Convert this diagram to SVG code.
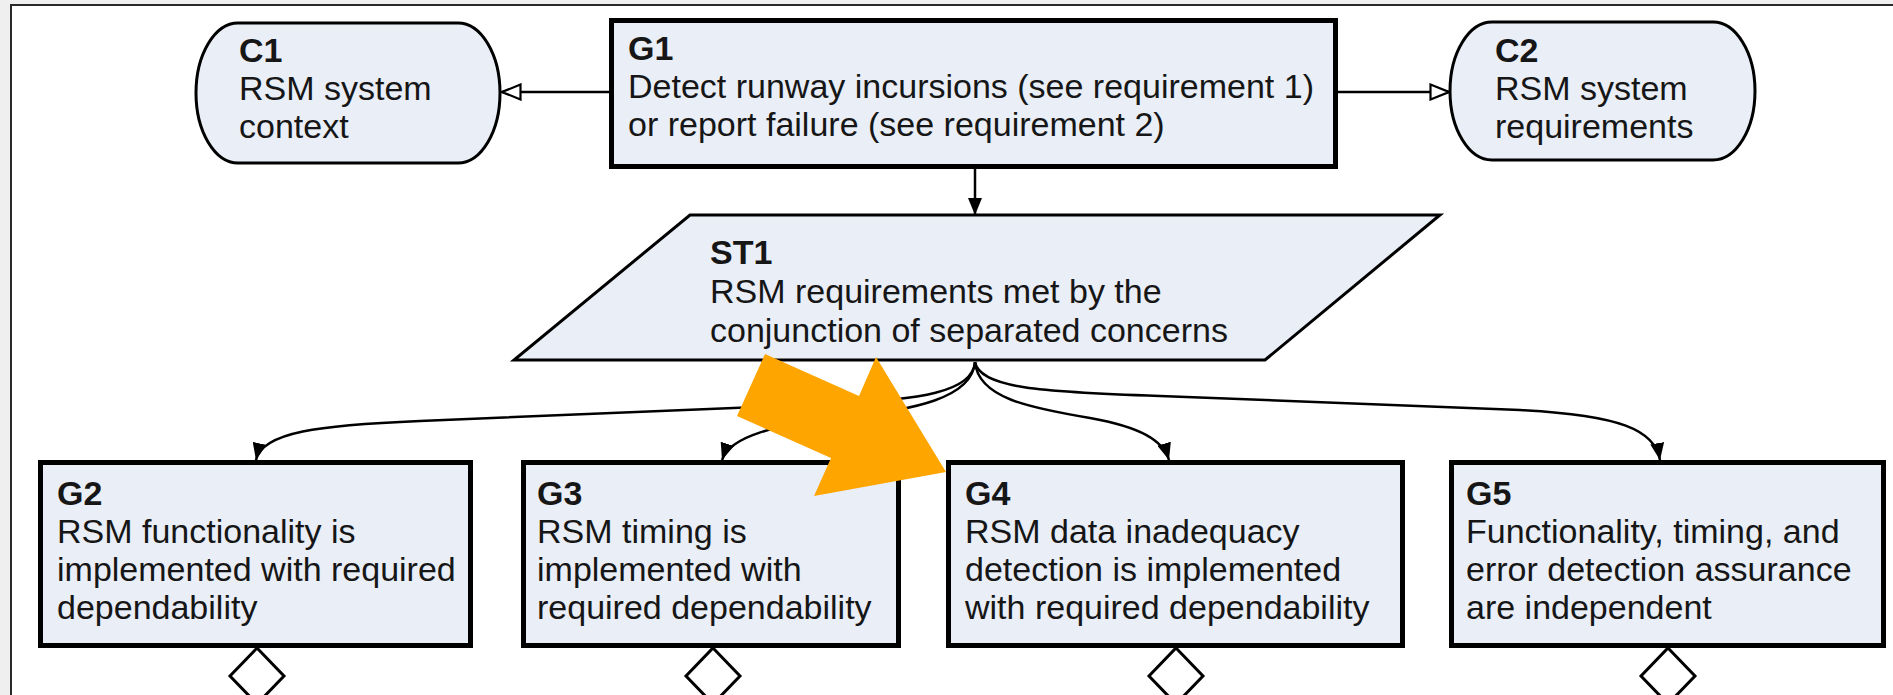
<svg xmlns="http://www.w3.org/2000/svg" width="1893" height="695" viewBox="0 0 1893 695">
  <style>
    .goal { fill: #e9eef7; stroke: #000; stroke-width: 5; }
    .ctx { fill: #e9eef7; stroke: #000; stroke-width: 3; }
    .strat { fill: #e9eef7; stroke: #000; stroke-width: 3; stroke-linejoin: miter; }
    .undev { fill: #fff; stroke: #000; stroke-width: 3; }
    .lbl { font-family: "Liberation Sans", Arial, sans-serif; font-size: 34px; fill: #161616; }
    .id { font-weight: bold; }
    .edge { fill: none; stroke: #000; stroke-width: 2.5; }
  </style>
  <defs>
    <marker id="solid" markerUnits="userSpaceOnUse" markerWidth="18" markerHeight="14" refX="17" refY="7" orient="auto">
      <path d="M0,0 L17,7 L0,14 z" fill="#000"/>
    </marker>
    <marker id="hollow" markerUnits="userSpaceOnUse" markerWidth="22" markerHeight="18" refX="20" refY="9" orient="auto">
      <path d="M1.5,1.5 L20,9 L1.5,16.5 z" fill="#fff" stroke="#000" stroke-width="2.2"/>
    </marker>
  </defs>

  <!-- page frame -->
  <rect x="0" y="0" width="1893" height="695" fill="#efefef"/>
  <rect x="11" y="5" width="1900" height="710" fill="#fff" stroke="#2a2a2a" stroke-width="2"/>

  <!-- connectors -->
  <g id="connectors">
    <path class="edge" d="M609,92 L502,92" marker-end="url(#hollow)"/>
    <path class="edge" d="M1338,92 L1449,92" marker-end="url(#hollow)"/>
    <path class="edge" d="M975,169 L975,215" marker-end="url(#solid)"/>
    <path class="edge" d="M975,362 C973,392 920,400 830,404 L420,421 C320,425 262,432 256,460" marker-end="url(#solid)"/>
    <path class="edge" d="M975,362 C972,398 915,410 840,418 C775,425 730,436 722,460" marker-end="url(#solid)"/>
    <path class="edge" d="M975,362 C978,398 1030,408 1090,418 C1140,427 1163,440 1169,460" marker-end="url(#solid)"/>
    <path class="edge" d="M975,362 C980,388 1040,392 1160,396 L1520,410 C1620,415 1655,430 1660,460" marker-end="url(#solid)"/>
  </g>

  <g id="C1">
    <rect class="ctx" x="196" y="23" width="304" height="140" rx="42" ry="70"/>
    <text class="lbl id" x="239" y="62">C1</text>
    <text class="lbl" x="239" y="100">RSM system</text>
    <text class="lbl" x="239" y="138">context</text>
  </g>

  <g id="G1">
    <rect class="goal" x="611.5" y="20.5" width="724" height="146"/>
    <text class="lbl id" x="628" y="60">G1</text>
    <text class="lbl" x="628" y="98">Detect runway incursions (see requirement 1)</text>
    <text class="lbl" x="628" y="136">or report failure (see requirement 2)</text>
  </g>

  <g id="C2">
    <rect class="ctx" x="1450" y="22" width="305" height="138" rx="42" ry="69"/>
    <text class="lbl id" x="1495" y="62">C2</text>
    <text class="lbl" x="1495" y="100">RSM system</text>
    <text class="lbl" x="1495" y="138">requirements</text>
  </g>

  <g id="ST1">
    <polygon class="strat" points="690,215 1440,215 1265,360 514,360"/>
    <text class="lbl id" x="710" y="264">ST1</text>
    <text class="lbl" x="710" y="303">RSM requirements met by the</text>
    <text class="lbl" x="710" y="342">conjunction of separated concerns</text>
  </g>

  <g id="G2">
    <polygon class="undev" points="257,648 284,676 257,704 230,676"/>
    <rect class="goal" x="40.5" y="462.5" width="430" height="183"/>
    <text class="lbl id" x="57" y="505">G2</text>
    <text class="lbl" x="57" y="543">RSM functionality is</text>
    <text class="lbl" x="57" y="581">implemented with required</text>
    <text class="lbl" x="57" y="619">dependability</text>
  </g>

  <g id="G3">
    <polygon class="undev" points="713,648 740,676 713,704 686,676"/>
    <rect class="goal" x="523.5" y="462.5" width="375" height="183"/>
    <text class="lbl id" x="537" y="505">G3</text>
    <text class="lbl" x="537" y="543">RSM timing is</text>
    <text class="lbl" x="537" y="581">implemented with</text>
    <text class="lbl" x="537" y="619">required dependability</text>
  </g>

  <g id="G4">
    <polygon class="undev" points="1176,648 1203,676 1176,704 1149,676"/>
    <rect class="goal" x="948.5" y="462.5" width="454" height="183"/>
    <text class="lbl id" x="965" y="505">G4</text>
    <text class="lbl" x="965" y="543">RSM data inadequacy</text>
    <text class="lbl" x="965" y="581">detection is implemented</text>
    <text class="lbl" x="965" y="619">with required dependability</text>
  </g>

  <g id="G5">
    <polygon class="undev" points="1668,648 1695,676 1668,704 1641,676"/>
    <rect class="goal" x="1451.5" y="462.5" width="432" height="183"/>
    <text class="lbl id" x="1466" y="505">G5</text>
    <text class="lbl" x="1466" y="543">Functionality, timing, and</text>
    <text class="lbl" x="1466" y="581">error detection assurance</text>
    <text class="lbl" x="1466" y="619">are independent</text>
  </g>

  <!-- highlight pointer -->
  <polygon id="pointer" fill="#ffa500" points="765,354 859,396 876,357 946,472 814,496 831,458 737,416"/>
</svg>
